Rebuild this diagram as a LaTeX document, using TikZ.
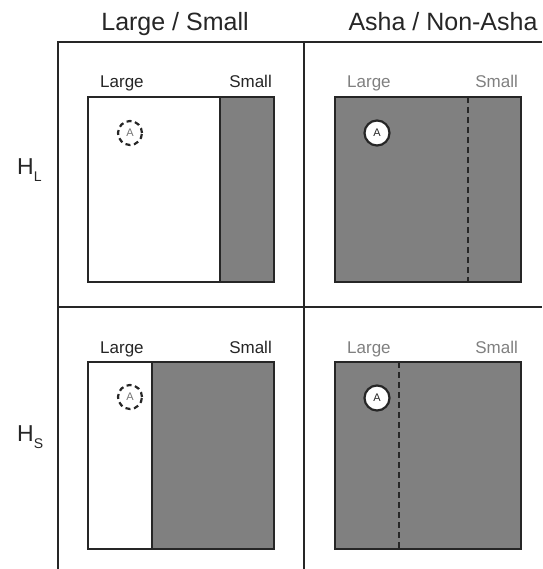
\documentclass[tikz,border=0pt]{standalone}
\usepackage{fontspec}
\setmainfont{Liberation Sans}
\newcommand{\lowsub}[1]{\raisebox{-7pt}{\fontsize{14}{15}\selectfont #1}}
\begin{document}
\begin{tikzpicture}[x=1pt,y=-1pt,
  frameline/.style={line width=1.6pt,draw=black!85},
  panelbox/.style={line width=2.2pt,draw=black!85},
  shade/.style={fill=black!50},
  divider/.style={line width=2.6pt,draw=black!85,dash pattern=on 6pt off 4pt},
  title/.style={font=\fontsize{25}{28}\selectfont,text=black!85,inner sep=0pt},
  rowlabel/.style={font=\fontsize{23}{26}\selectfont,text=black!85,inner sep=0pt},
  sidelabel/.style={font=\fontsize{17}{19}\selectfont,inner sep=0pt,anchor=base},
  ghost/.style={circle,minimum size=24pt,inner sep=0pt,line width=2.2pt,draw=black!85,
    dash pattern=on 5pt off 3.6pt,text=black!55,font=\fontsize{11}{12}\selectfont},
  agent/.style={circle,minimum size=25pt,inner sep=0pt,line width=2.2pt,draw=black!85,
    fill=white,text=black!85,font=\fontsize{11}{12}\selectfont}]
\useasboundingbox[fill=white] (0,0) rectangle (542,569);

% column titles and row labels
\node[title,anchor=base] (t1) at (175,31) {Large / Small};
\node[title,anchor=base] (t2) at (443,31) {Asha / Non-Asha};
\node[rowlabel,anchor=base west] (hl) at (17,175) {H\lowsub{L}};
\node[rowlabel,anchor=base west] (hs) at (17,441) {H\lowsub{S}};

% outer grid
\draw[frameline] (58,569) -- (58,42) -- (542,42);
\draw[frameline] (304,42) -- (304,569);
\draw[frameline] (58,307) -- (542,307);

% top-left panel: Large / Small split
\fill[shade] (220,97) rectangle (274,282);
\draw[panelbox] (220,97) -- (220,282);
\draw[panelbox] (88,97) rectangle (274,282);
\node[sidelabel,anchor=base west,text=black!85] (ll1) at (100,88) {Large};
\node[sidelabel,anchor=base east,text=black!85] (ls1) at (272,88) {Small};
\node[ghost] (a1) at (130,133) {A};

% top-right panel: Asha / Non-Asha split
\fill[shade] (335,97) rectangle (521,282);
\draw[divider] (468,97) -- (468,282);
\draw[panelbox] (335,97) rectangle (521,282);
\node[sidelabel,anchor=base west,text=black!50] (ll2) at (347,88) {Large};
\node[sidelabel,anchor=base east,text=black!50] (ls2) at (518,88) {Small};
\node[agent] (a2) at (377,133) {A};

% bottom-left panel
\fill[shade] (152,362) rectangle (274,549);
\draw[panelbox] (152,362) -- (152,549);
\draw[panelbox] (88,362) rectangle (274,549);
\node[sidelabel,anchor=base west,text=black!85] (ll3) at (100,353) {Large};
\node[sidelabel,anchor=base east,text=black!85] (ls3) at (272,353) {Small};
\node[ghost] (a3) at (130,397) {A};

% bottom-right panel
\fill[shade] (335,362) rectangle (521,549);
\draw[divider] (399,362) -- (399,549);
\draw[panelbox] (335,362) rectangle (521,549);
\node[sidelabel,anchor=base west,text=black!50] (ll4) at (347,353) {Large};
\node[sidelabel,anchor=base east,text=black!50] (ls4) at (518,353) {Small};
\node[agent] (a4) at (377,398) {A};
\end{tikzpicture}
\end{document}
